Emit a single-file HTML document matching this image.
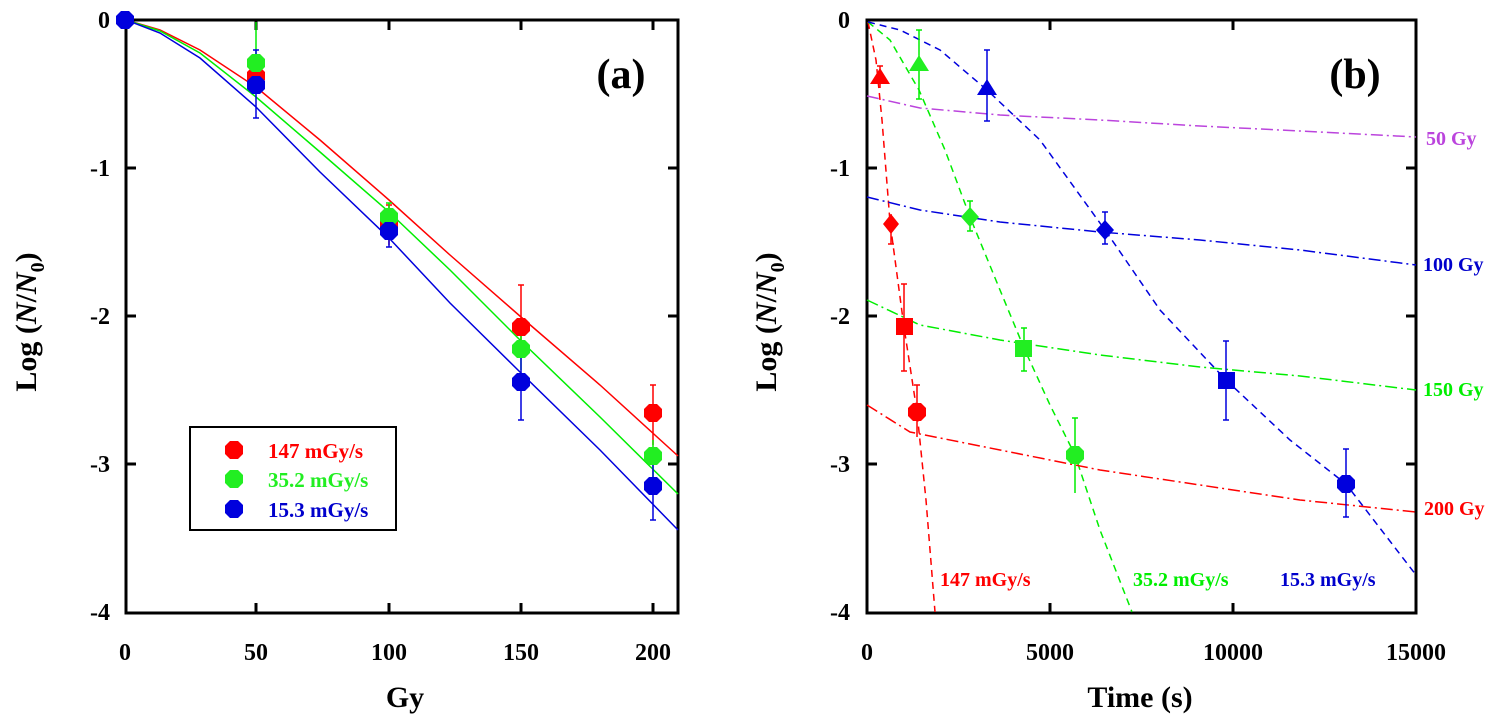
<!DOCTYPE html>
<html><head><meta charset="utf-8"><style>body{margin:0;background:#fff}svg{display:block}text{font-family:"Liberation Serif",serif;font-weight:bold}</style></head><body>
<svg width="1505" height="720" viewBox="0 0 1505 720" xmlns="http://www.w3.org/2000/svg">
<defs>
<g id="circ"><polygon points="-9,-4 -4,-9 4,-9 9,-4 9,4 4,9 -4,9 -9,4"/></g>
</defs>
<!-- ============ Panel A ============ -->
<g font-size="24" fill="#000" text-anchor="end">
<text x="110" y="28">0</text><text x="110" y="176">-1</text><text x="110" y="324">-2</text><text x="110" y="472">-3</text><text x="110" y="620">-4</text>
</g>
<g font-size="24" text-anchor="middle">
<text x="125" y="660">0</text><text x="256" y="660">50</text><text x="389" y="660">100</text><text x="521" y="660">150</text><text x="653" y="660">200</text>
<text x="405" y="707" font-size="30">Gy</text>
</g>
<text transform="translate(36,322) rotate(-90)" font-size="30" text-anchor="middle">Log (<tspan font-style="italic">N</tspan>/<tspan font-style="italic">N</tspan><tspan font-size="20" dy="8">0</tspan><tspan dy="-8">)</tspan></text>
<text x="621" y="88" font-size="42" text-anchor="middle">(a)</text>
<g stroke="#000" stroke-width="3" fill="none">
<rect x="126" y="20" width="552" height="593"/>
<path d="M256 613v-10M389 613v-10M521 613v-10M653 613v-10M256 20v10M389 20v10M521 20v10M653 20v10M126 168h10M126 316h10M126 464h10M678 168h-10M678 316h-10M678 464h-10"/>
</g>
<g fill="none" stroke-width="1.5">
<polyline stroke="#ff0000" points="126,20 160,30 200,50 256,87 320,140 389,200 450,255 521,317 600,385 678,456"/>
<polyline stroke="#00ee00" points="126,20 160,31 200,53 256,97 320,152 389,212 450,270 521,341 600,417 678,494"/>
<polyline stroke="#0000dd" points="126,20 160,33 200,58 256,107 320,172 389,238 450,303 521,373 600,450 678,530"/>
</g>
<g stroke-width="1.5">
<path stroke="#ff0000" d="M389 205v40M386 205h6M521 285v55M518 285h6M653 385v60M650 385h6"/>
<path stroke="#00ee00" d="M256 22v60M389 203v30M386 203h6M521 330v40M653 440v40"/>
<path stroke="#0000dd" d="M256 50v68M253 50h6M253 118h6M389 215v32M386 247h6M521 355v65M518 420h6M653 460v60M650 520h6"/>
</g>
<g fill="#ff0000"><use href="#circ" x="256" y="76"/><use href="#circ" x="389" y="224"/><use href="#circ" x="521" y="327"/><use href="#circ" x="653" y="413"/></g>
<g fill="#22ee22"><use href="#circ" x="256" y="63"/><use href="#circ" x="389" y="217"/><use href="#circ" x="521" y="349"/><use href="#circ" x="653" y="456"/></g>
<g fill="#0000dd"><use href="#circ" x="125" y="20"/><use href="#circ" x="256" y="85"/><use href="#circ" x="389" y="231"/><use href="#circ" x="521" y="382"/><use href="#circ" x="653" y="486"/></g>
<rect x="190" y="427" width="206" height="103" fill="#fff" stroke="#000" stroke-width="2"/>
<use href="#circ" x="234" y="450" fill="#ff0000"/><use href="#circ" x="234" y="479" fill="#22ee22"/><use href="#circ" x="234" y="509" fill="#0000dd"/>
<g font-size="21"><text x="268" y="458" fill="#ff0000">147 mGy/s</text><text x="268" y="487" fill="#22ee22">35.2 mGy/s</text><text x="268" y="517" fill="#0000cc">15.3 mGy/s</text></g>

<!-- ============ Panel B ============ -->
<g font-size="24" fill="#000" text-anchor="end">
<text x="850" y="28">0</text><text x="850" y="176">-1</text><text x="850" y="324">-2</text><text x="850" y="472">-3</text><text x="850" y="620">-4</text>
</g>
<g font-size="24" text-anchor="middle">
<text x="867" y="660">0</text><text x="1050" y="660">5000</text><text x="1233" y="660">10000</text><text x="1416" y="660">15000</text>
<text x="1140" y="707" font-size="30">Time (s)</text>
</g>
<text transform="translate(776,322) rotate(-90)" font-size="30" text-anchor="middle">Log (<tspan font-style="italic">N</tspan>/<tspan font-style="italic">N</tspan><tspan font-size="20" dy="8">0</tspan><tspan dy="-8">)</tspan></text>
<text x="1355" y="88" font-size="42" text-anchor="middle">(b)</text>
<g stroke="#000" stroke-width="3" fill="none">
<rect x="867" y="20" width="549" height="593"/>
<path d="M1050 613v-10M1233 613v-10M1050 20v10M1233 20v10M867 168h10M867 316h10M867 464h10M1416 168h-10M1416 316h-10M1416 464h-10"/>
</g>
<g fill="none" stroke-width="1.5" stroke-dasharray="7,5">
<polyline stroke="#ff0000" points="868,22 876,60 882,120 890,222 904,327 917,412 926,500 935,612"/>
<polyline stroke="#00ee00" points="868,22 890,40 919,90 945,150 970,217 1000,290 1024,348 1050,405 1075,455 1100,530 1132,612"/>
<polyline stroke="#0000dd" points="868,22 900,30 940,50 987,90 1040,140 1105,230 1160,310 1226,380 1290,440 1346,484 1416,575"/>
</g>
<g fill="none" stroke-width="1.5" stroke-dasharray="12,4,2,4">
<polyline stroke="#bb44dd" points="867,96 920,108 1000,115 1100,120 1200,126 1300,131 1416,137"/>
<polyline stroke="#0000dd" points="867,197 920,210 1000,222 1100,232 1200,240 1300,250 1416,265"/>
<polyline stroke="#00ee00" points="867,300 920,325 1000,340 1100,355 1200,367 1300,376 1416,390"/>
<polyline stroke="#ff0000" points="867,405 910,432 1000,450 1100,470 1200,485 1300,500 1416,512"/>
</g>
<g stroke-width="1.5">
<path stroke="#ff0000" d="M880 66v22M877 66h6M891 214v30M888 244h6M904 284v87M901 284h6M901 371h6M917 385v52M914 385h6"/>
<path stroke="#00ee00" d="M919 30v69M916 30h6M916 99h6M970 201v30M967 201h6M967 231h6M1024 328v43M1021 328h6M1021 371h6M1075 418v75M1072 418h6"/>
<path stroke="#0000dd" d="M987 50v71M984 50h6M984 121h6M1105 212v32M1102 212h6M1102 244h6M1226 341v79M1223 341h6M1223 420h6M1346 449v68M1343 449h6M1343 517h6"/>
</g>
<polygon points="880,68 870,84 890,84" fill="#ff0000"/>
<polygon points="919,55 909,71 929,71" fill="#22ee22"/>
<polygon points="987,79 977,95 997,95" fill="#0000dd"/>
<polygon points="891,214 899,224 891,234 883,224" fill="#ff0000"/>
<polygon points="970,207 979,217 970,227 961,217" fill="#22ee22"/>
<polygon points="1105,220 1114,230 1105,240 1096,230" fill="#0000dd"/>
<rect x="896" y="318" width="17" height="17" fill="#ff0000"/>
<rect x="1015" y="340" width="17" height="17" fill="#22ee22"/>
<rect x="1218" y="372" width="17" height="17" fill="#0000dd"/>
<use href="#circ" x="917" y="412" fill="#ff0000"/><use href="#circ" x="1075" y="455" fill="#22ee22"/><use href="#circ" x="1346" y="484" fill="#0000dd"/>
<g font-size="20">
<text x="1426" y="145" fill="#bb44dd">50 Gy</text>
<text x="1423" y="271" fill="#0000cc">100 Gy</text>
<text x="1423" y="396" fill="#00ee00">150 Gy</text>
<text x="1424" y="515" fill="#ff0000">200 Gy</text>
<text x="940" y="586" fill="#ff0000">147 mGy/s</text>
<text x="1133" y="586" fill="#00ee00">35.2 mGy/s</text>
<text x="1280" y="586" fill="#0000cc">15.3 mGy/s</text>
</g>
</svg>
</body></html>
